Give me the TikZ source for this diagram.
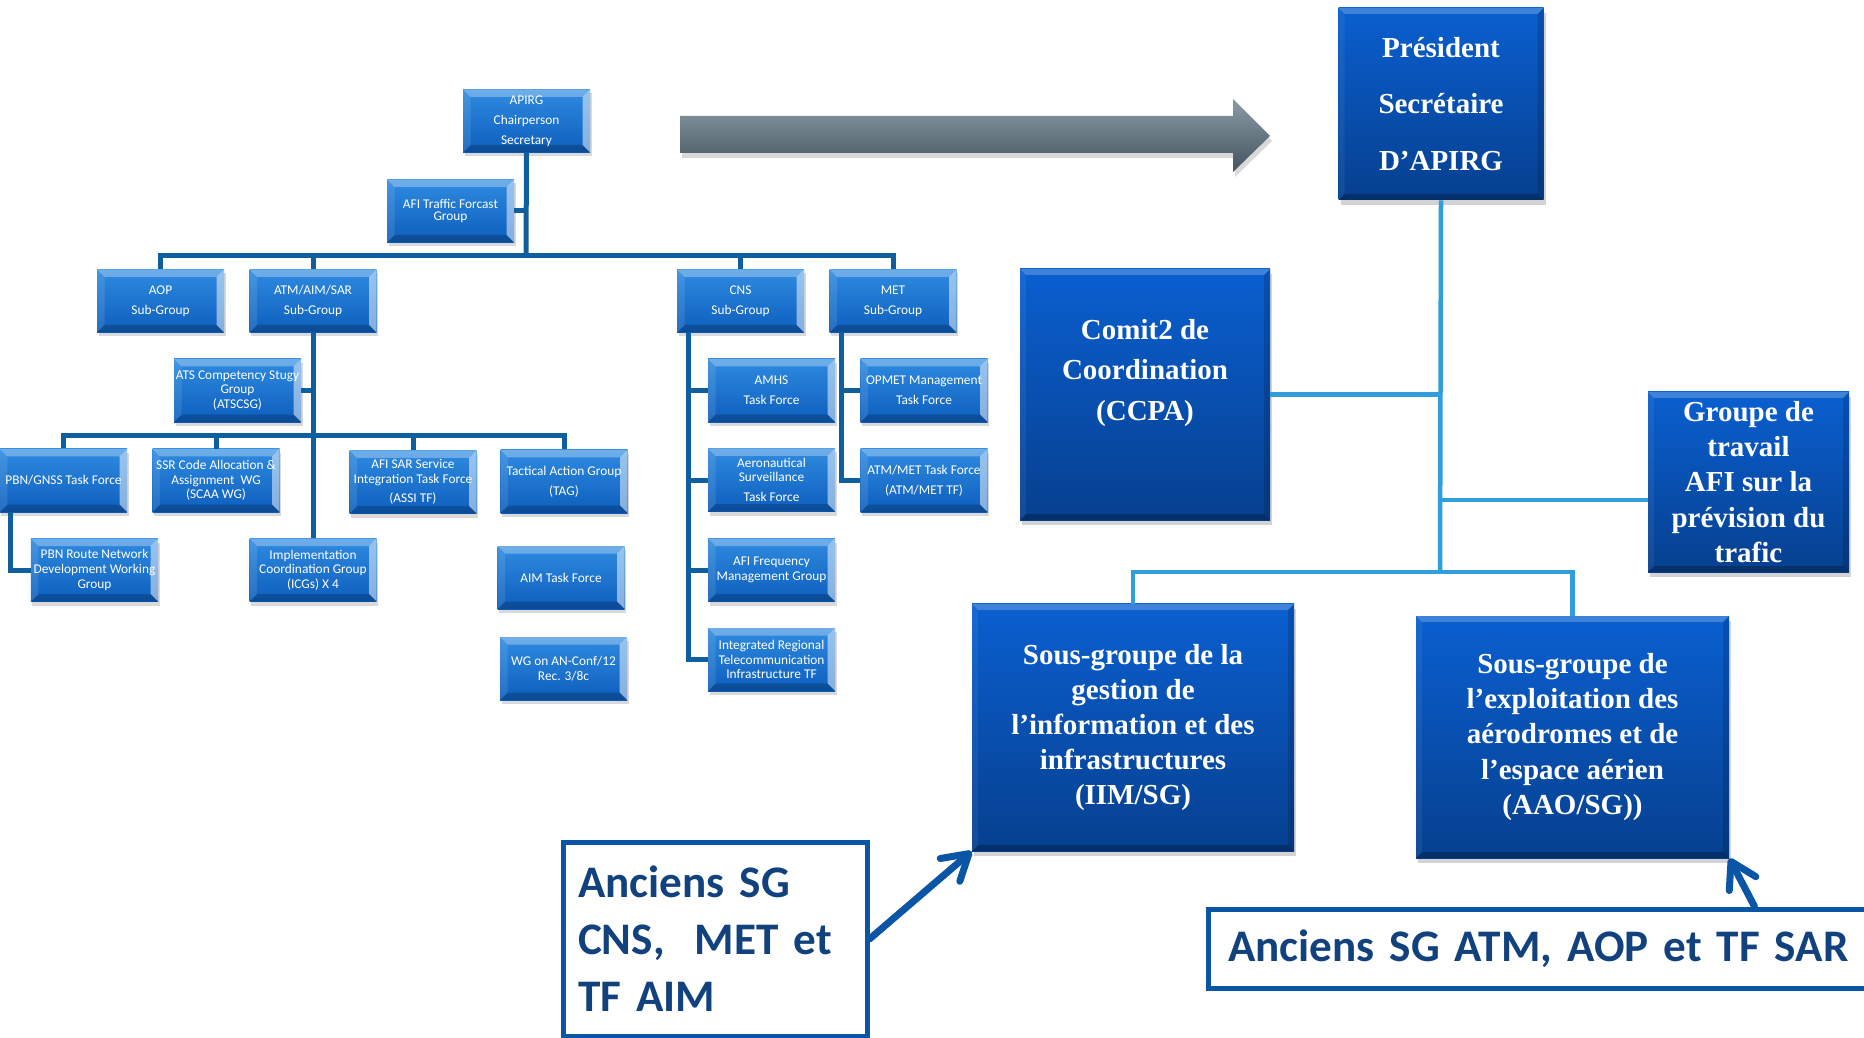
\documentclass[tikz,border=0pt]{standalone}
\usepackage{fontspec}
\setmainfont{Liberation Serif}
\newfontfamily\calib{Carlito}
\usetikzlibrary{arrows.meta,shadows}

\definecolor{orgblue}{HTML}{0F5E9E}
\definecolor{skyline}{HTML}{2E9FDA}
\definecolor{arrowblue}{HTML}{0B55A6}
\definecolor{navytext}{HTML}{12427E}
\definecolor{smalltop}{HTML}{2F8BE0}
\definecolor{smallbot}{HTML}{0D5EBD}
\definecolor{bigtop}{HTML}{0A5FD0}
\definecolor{bigbot}{HTML}{06408F}
\definecolor{greytop}{HTML}{8A9BA5}
\definecolor{greymid}{HTML}{5D717C}
\definecolor{greybot}{HTML}{44545E}

\newcommand\smallfont{\calib\fontsize{7.6}{8.3}\selectfont}
\newcommand\bigfont{\bfseries\fontsize{16.5}{20}\selectfont}
\newcommand\oldfont{\calib\bfseries\fontsize{25.7}{32.4}\selectfont}

% bevelled edges: top, right, bottom, left, size
\newcommand\bevel[5]{%
  \fill[#1] (path picture bounding box.north west) -- (path picture bounding box.north east)
    -- ([shift={(-#5,-#5)}]path picture bounding box.north east) -- ([shift={(#5,-#5)}]path picture bounding box.north west) -- cycle;
  \fill[#2] (path picture bounding box.north east) -- (path picture bounding box.south east)
    -- ([shift={(-#5,#5)}]path picture bounding box.south east) -- ([shift={(-#5,-#5)}]path picture bounding box.north east) -- cycle;
  \fill[#3] (path picture bounding box.south east) -- (path picture bounding box.south west)
    -- ([shift={(#5,#5)}]path picture bounding box.south west) -- ([shift={(-#5,#5)}]path picture bounding box.south east) -- cycle;
  \fill[#4] (path picture bounding box.south west) -- (path picture bounding box.north west)
    -- ([shift={(#5,-#5)}]path picture bounding box.north west) -- ([shift={(#5,#5)}]path picture bounding box.south west) -- cycle;
}

\begin{document}
\begin{tikzpicture}[x=0.2mm,y=-0.2mm,
    smallbox/.style={rectangle,minimum width=25.4mm,minimum height=12.6mm,inner sep=0pt,align=center,
      text=white,font=\smallfont,top color=smalltop,bottom color=smallbot,
      drop shadow={shadow xshift=0.3mm,shadow yshift=-0.8mm,opacity=0.3},
      path picture={\bevel{white,opacity=0.3}{white,opacity=0.5}{black,opacity=0.2}{white,opacity=0.1}{1.5mm}}},
    bigbox/.style={rectangle,inner sep=0pt,align=center,text=white,font=\bigfont,
      top color=bigtop,bottom color=bigbot,
      drop shadow={shadow xshift=0.4mm,shadow yshift=-1mm,opacity=0.35},
      path picture={\bevel{white,opacity=0.22}{black,opacity=0.15}{black,opacity=0.25}{white,opacity=0.06}{1.2mm}}},
    bigtext/.style={align=center,text=white,font=\bigfont},
    oldbox/.style={rectangle,draw=arrowblue,line width=1mm,fill=white,inner ysep=0pt,
      align=left,text=navytext,font=\oldfont},
    orgline/.style={draw=orgblue,line width=1mm},
    newline/.style={draw=skyline,line width=0.9mm},
    oldarrow/.style={draw=arrowblue,line width=1.4mm,line cap=round,-{Straight Barb[length=5mm,width=6mm,round]}}]
\useasboundingbox (0,0) rectangle (1864,1038);
\clip (0,0) rectangle (1864,1038);

% current structure
\coordinate (bus) at (526,256);
\coordinate (atmbus) at (313,436);
\draw[orgline] (160.5,301) |- (bus) -| (893,301);
\draw[orgline] (313,301) -- (313,256);
\draw[orgline] (740.5,301) -- (740.5,256);
\draw[orgline] (63.5,480.5) |- (atmbus) -| (564,481.5);

\node[smallbox] (apirg) at (526.5,121) {APIRG\\[3pt]Chairperson\\[3pt]Secretary};
\node[smallbox] (afitf) at (450.5,211) {AFI Traffic Forcast\\[-1pt]Group};
\node[smallbox] (aop) at (160.5,301) {AOP\\[3pt]Sub-Group};
\node[smallbox] (atmsg) at (313,301) {ATM/AIM/SAR\\[3pt]Sub-Group};
\node[smallbox] (cnssg) at (740.5,301) {CNS\\[3pt]Sub-Group};
\node[smallbox] (metsg) at (893,301) {MET\\[3pt]Sub-Group};

\node[smallbox] (atscsg) at (237.5,390.5) {ATS Competency Stugy\\Group\\(ATSCSG)};
\node[smallbox] (pbngnss) at (63.5,480.5) {PBN/GNSS Task Force};
\node[smallbox] (scaa) at (216,480.5) {SSR Code Allocation \&\\Assignment\ \ WG\\(SCAA WG)};
\node[smallbox] (assi) at (413,482) {AFI SAR Service\\Integration Task Force\\[3pt](ASSI TF)};
\node[smallbox] (tag) at (564,481.5) {Tactical Action Group\\[3pt](TAG)};
\node[smallbox] (pbnroute) at (94.5,570) {PBN Route Network\\Development Working\\Group};
\node[smallbox] (icg) at (313,570) {Implementation\\Coordination Group\\(ICGs) X 4};
\node[smallbox] (aimtf) at (561,577.5) {AIM Task Force};
\node[smallbox] (wgconf) at (563.5,668.5) {WG on AN-Conf/12\\Rec. 3/8c};

\node[smallbox] (amhs) at (771.5,390.5) {AMHS\\[3pt]Task Force};
\node[smallbox] (surv) at (771.5,480) {Aeronautical\\Surveillance\\[3pt]Task Force};
\node[smallbox] (freq) at (771.5,570) {AFI Frequency\\Management Group};
\node[smallbox] (irt) at (771.5,659.5) {Integrated Regional\\Telecommunication\\Infrastructure TF};
\node[smallbox] (opmet) at (924,390.5) {OPMET Management\\[3pt]Task Force};
\node[smallbox] (atmmet) at (924,480.5) {ATM/MET Task Force\\[3pt](ATM/MET TF)};

\draw[orgline] (apirg.south) -- (bus);
\draw[orgline] (afitf.east) -- (afitf.east -| apirg.south);
\draw[orgline] (atmsg.south) -- (icg.north);
\draw[orgline] (atscsg.east) -- (atscsg.east -| atmsg.south);
\draw[orgline] (scaa.north) -- (scaa.north |- atmbus);
\draw[orgline] (assi.north) -- (assi.north |- atmbus);
\draw[orgline] ([xshift=2.2mm]pbngnss.south west) |- (pbnroute.west);
\coordinate (cnsx) at ([xshift=2.4mm]cnssg.south west);
\coordinate (metx) at ([xshift=2.4mm]metsg.south west);
\draw[orgline] (cnsx) |- (irt.west);
\foreach \n in {amhs,surv,freq} \draw[orgline] (\n.west) -- (\n.west -| cnsx);
\draw[orgline] (metx) |- (atmmet.west);
\draw[orgline] (opmet.west) -- (opmet.west -| metx);

% big arrow
\shade[top color=greytop,middle color=greymid,bottom color=greybot,
  drop shadow={shadow xshift=0.4mm,shadow yshift=-1mm,opacity=0.3}]
  (680,116) -- (1233,116) -- (1233,99) -- (1270,136) -- (1233,172) -- (1233,153) -- (680,153) -- cycle;

% new structure
\coordinate (newbus) at (1440,572);
\node[bigbox,minimum width=41mm,minimum height=38.4mm,font=\bigfont\fontsize{16.5}{32}\selectfont] (pres) at (1441,104) {Président\\Secrétaire\\D’APIRG};
\node[bigbox,minimum width=50mm,minimum height=50.2mm] (ccpa) at (1145,394.5) {};
\node[bigtext] (ccpatext) at ([yshift=4.3mm]ccpa.center) {Comit2 de\\[2.8pt]Coordination\\[2.8pt](CCPA)};
\node[bigbox,minimum width=40.2mm,minimum height=36mm] (afiwg) at (1748.5,482) {Groupe de\\travail\\AFI sur la\\prévision du\\trafic};
\node[bigbox,minimum width=64.4mm,minimum height=49.4mm] (iim) at (1133,727.5) {Sous-groupe de la\\gestion de\\l’information et des\\infrastructures\\(IIM/SG)};
\node[bigbox,minimum width=62.6mm,minimum height=48.4mm] (aao) at (1572.5,737) {Sous-groupe de\\l’exploitation des\\aérodromes et de\\l’espace aérien\\(AAO/SG))};

\draw[newline] (pres.south) -- (newbus);
\draw[newline] (ccpa.east) -- (ccpa.east -| newbus);
\draw[newline] ([yshift=-3.6mm]afiwg.west) -- ([yshift=-3.6mm]afiwg.west -| newbus);
\draw[newline] (iim.north) |- (newbus) -| (aao.north);

% former groups
\node[oldbox,text width=54.8mm,inner xsep=3mm,minimum height=38.8mm] (oldcns) at (715,939) {Anciens SG\\CNS,\ \ MET et\\TF AIM};
\node[oldbox,text width=135mm,inner xsep=4mm,minimum height=15.8mm] (oldatm) at (1565.5,948.5) {Anciens SG ATM, AOP et TF SAR};
\draw[oldarrow] (oldcns.east) -- (iim.south west);
\draw[oldarrow] ([xshift=109.8mm]oldatm.north west) -- (aao.south east);
\end{tikzpicture}
\end{document}
